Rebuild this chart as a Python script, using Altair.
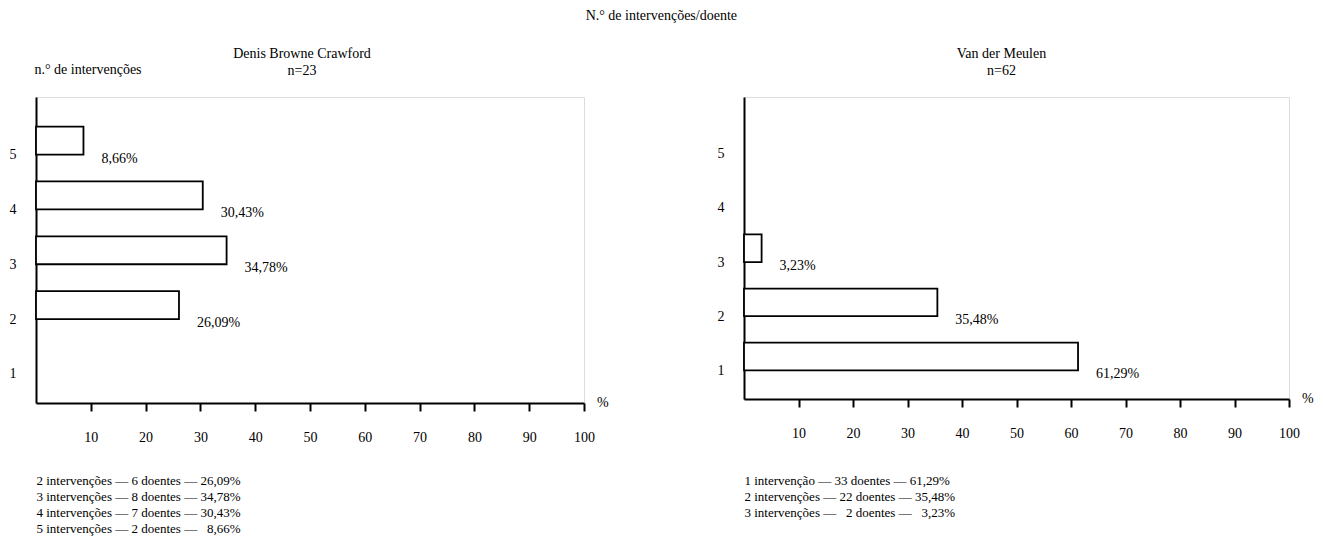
import altair as alt
import pandas as pd

FONT = "Liberation Serif"

# ---- data ----
main_title = "N.° de intervenções/doente"

left_title = ["Denis Browne Crawford", "n=23"]
left_interv = [2, 3, 4, 5]
left_doentes = [6, 8, 7, 2]
left_pct = [26.09, 34.78, 30.43, 8.66]

right_title = ["Van der Meulen", "n=62"]
right_interv = [1, 2, 3]
right_doentes = [33, 22, 2]
right_pct = [61.29, 35.48, 3.23]

y_ticks = [1, 2, 3, 4, 5]
x_ticks = [10, 20, 30, 40, 50, 60, 70, 80, 90, 100]
y_axis_title = "n.° de intervenções"


def footer_lines(interv, doentes, pct):
    wide = max(doentes) >= 10
    lines = []
    for i, d, p in zip(interv, doentes, pct):
        word = "intervenção" if i == 1 else "intervenções"
        dstr = ("\u2007" if (wide and d < 10) else "") + str(d)
        pstr = ("\u2007" if p < 10 else "") + f"{p:.2f}".replace(".", ",")
        lines.append(f"{i} {word} — {dstr} doentes — {pstr}%")
    return lines


def panel(interv, doentes, pct, title_lines, width, height, show_ytitle, title_dx, foot_pad):
    df = pd.DataFrame({"interv": interv, "pct": pct})
    x_scale = alt.Scale(domain=[0, 100], nice=False, zero=True)
    y_scale = alt.Scale(domain=[0.47, 6.05], nice=False, zero=False)

    x_axis = alt.Axis(
        values=x_ticks, grid=False, tickSize=8, tickWidth=2, tickColor="black",
        domainWidth=2, domainColor="black", labelPadding=19, labelFontSize=14,
        labelColor="black", labelFlush=False, labelFont=FONT, format="d",
        title=footer_lines(interv, doentes, pct), titleAnchor="start",
        titleAlign="left", titleBaseline="top", titlePadding=foot_pad,
        titleFontWeight="normal", titleFontSize=13, titleLineHeight=16,
        titleColor="black", titleFont=FONT,
    )
    y_axis = alt.Axis(
        values=y_ticks, grid=False, ticks=False, domainWidth=2, format="d",
        domainColor="black", labelPadding=20, labelFontSize=14,
        labelColor="black", labelFlush=False, labelFont=FONT,
        title=y_axis_title, titleAngle=0, titleX=-2, titleY=-28,
        titleAlign="left", titleBaseline="middle", titleFontWeight="normal",
        titleFontSize=14, titleFont=FONT,
        titleColor="black" if show_ytitle else "white",
    )

    bars = alt.Chart(df).transform_calculate(
        top="datum.interv + 0.51"
    ).mark_rect(fill="white", stroke="black", strokeWidth=1.8).encode(
        x=alt.X("pct:Q", scale=x_scale, axis=x_axis),
        x2=alt.datum(0),
        y=alt.Y("interv:Q", scale=y_scale, axis=y_axis),
        y2="top:Q",
    )

    labels = alt.Chart(df).transform_calculate(
        lab="replace(format(datum.pct, '.2f'), '.', ',') + '%'"
    ).mark_text(
        align="left", baseline="middle", dx=18, dy=4, fontSize=14,
        font=FONT, color="black",
    ).encode(
        x=alt.X("pct:Q", scale=x_scale),
        y=alt.Y("interv:Q", scale=y_scale),
        text="lab:N",
    )

    pct_sign = alt.Chart(pd.DataFrame({"v": [100]})).mark_text(
        text="%", align="left", baseline="middle", dx=13, dy=0,
        fontSize=14, font=FONT, color="black",
    ).encode(
        x=alt.X("v:Q", scale=x_scale),
        y=alt.value(height),
    )

    return alt.layer(bars, labels, pct_sign).properties(
        width=width, height=height,
        title=alt.TitleParams(
            text=title_lines, fontSize=14, fontWeight="normal", font=FONT,
            lineHeight=17, offset=-15.5, anchor="middle", dx=title_dx,
            color="black",
        ),
    )


left = panel(left_interv, left_doentes, left_pct, left_title, 548, 306, True, -8, 30)
right = panel(right_interv, right_doentes, right_pct, right_title, 545, 302, False, -15, 34)

chart = alt.hconcat(left, right, spacing=106).properties(
    title=alt.TitleParams(
        main_title, fontSize=14, fontWeight="normal", font=FONT,
        offset=23.5, anchor="middle", color="black",
    ),
    padding={"left": 0, "top": 0, "right": 0, "bottom": 0},
).configure_view(stroke=None).configure(font=FONT)

chart.save("out.html", embed_options={"renderer": "svg", "actions": False})
